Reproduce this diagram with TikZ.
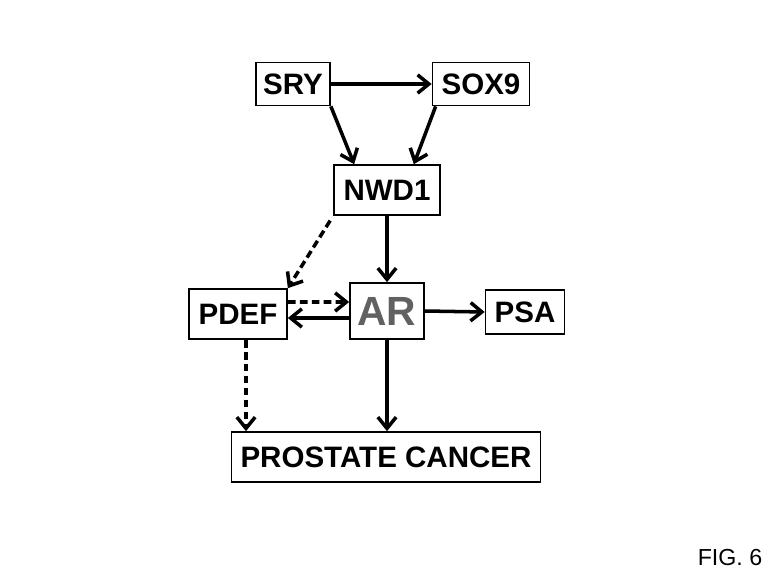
\documentclass[tikz,border=0pt]{standalone}
\usepackage{fontspec}
\setsansfont{Liberation Sans}
\usetikzlibrary{positioning, arrows.meta}

\begin{document}
\begin{tikzpicture}[
  x=0.025cm, y=-0.025cm,
  gene/.style={draw, line width=1.2pt, rectangle, inner sep=0pt, align=center, font=\sffamily\bfseries\fontsize{21}{24}\selectfont},
  arrow/.style={-{Straight Barb[length=8pt, width=13pt]}, line width=2.5pt},
  dasharrow/.style={arrow, dash pattern=on 5.5pt off 3pt}
]

% page frame
\useasboundingbox (0,0) rectangle (772,579);

% ===== TOP: SRY and SOX9 =====
\node[gene, minimum width=1.85cm, minimum height=1.075cm] at (293, 84) (sry) {SRY};
\node[gene, minimum width=2.425cm, minimum height=1.075cm] at (481, 84) (sox9) {SOX9};

% ===== MIDDLE: NWD1 =====
\node[gene, minimum width=2.65cm, minimum height=1.25cm] at (387, 190) (nwd1) {NWD1};

% ===== ROW: PDEF, AR, PSA =====
\node[gene, minimum width=2.45cm, minimum height=1.25cm] at (238, 314) (pdef) {PDEF};
\node[gene, minimum width=1.85cm, minimum height=1.4cm, font=\sffamily\bfseries\fontsize{29}{32}\selectfont, text=black!62] at (387, 311) (ar) {AR};
\node[gene, minimum width=1.975cm, minimum height=1.1cm] at (525, 312) (psa) {PSA};

% ===== BOTTOM: Prostate cancer =====
\node[gene, minimum width=7.725cm, minimum height=1.25cm] at (386, 457) (pc) {PROSTATE CANCER};

% Figure label
\node[font=\sffamily\fontsize{16.5}{20}\selectfont] at (730, 558) (fig) {FIG. 6};

% Arrows
\draw[arrow] (sry.east) -- (sox9.west);
\draw[arrow] (sry.south east) -- ([xshift=0.525cm]nwd1.north west);
\draw[arrow] ([xshift=0.1cm]sox9.south west) -- ([xshift=-0.675cm]nwd1.north east);
\draw[arrow] (nwd1.south) -- (ar.north);
\draw[dasharrow, shorten <=4pt] (nwd1.south west) -- (pdef.north east);
\draw[dasharrow] ([yshift=0.3cm]pdef.east) -- ([yshift=0.225cm]ar.west);
\draw[arrow] ([yshift=-0.175cm]ar.west) -- ([yshift=-0.1cm]pdef.east);
\draw[arrow] (ar.east) -- (psa.west);
\draw[dasharrow] ([xshift=0.2cm]pdef.south) -- ([xshift=0.2cm]pdef.south |- pc.north);
\draw[arrow] (ar.south) -- (ar.south |- pc.north);

\end{tikzpicture}
\end{document}
